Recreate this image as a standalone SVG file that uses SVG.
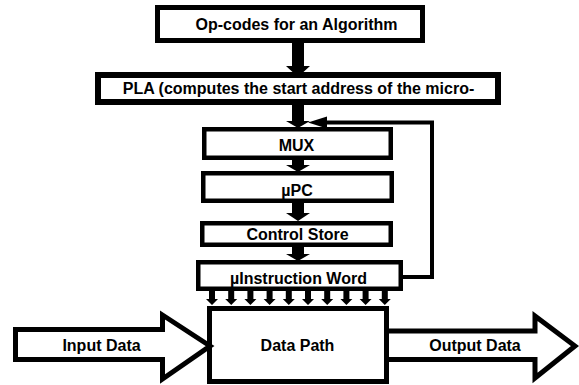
<svg xmlns="http://www.w3.org/2000/svg" width="579" height="385" viewBox="0 0 579 385">
<style>
.box{fill:#fff;stroke:#000;stroke-width:4.5}
.t{font-family:"Liberation Sans",Arial,sans-serif;font-weight:bold;font-size:16px;fill:#000;text-anchor:middle}
.ar{fill:#000}
.fb{fill:none;stroke:#000;stroke-width:4}
</style>
<defs>
<path id="sm" d="M-3,0 H3 V8 H6 L0,14 L-6,8 H-3 Z"/>
</defs>
<g id="connectors">
<path class="ar" d="M292,43 H304 V66 H310 L298,77 L286,66 H292 Z"/>
<path class="ar" d="M292,105 H304 V121 H310 L298,128 L286,121 H292 Z"/>
<path class="ar" d="M292,160 H304 V165 H310 L298,172 L286,165 H292 Z"/>
<path class="ar" d="M292,203 H304 V213 H310 L298,221 L286,213 H292 Z"/>
<path class="ar" d="M292,247 H304 V254 H310 L298,261 L286,254 H292 Z"/>
<path class="fb" d="M403,277 H432 V122.5 H325"/>
<path class="ar" d="M308,122.5 L327,116.5 L327,128.5 Z"/>
<g class="ar">
<use href="#sm" x="212" y="291"/>
<use href="#sm" x="231.2" y="291"/>
<use href="#sm" x="250.4" y="291"/>
<use href="#sm" x="269.6" y="291"/>
<use href="#sm" x="288.8" y="291"/>
<use href="#sm" x="308" y="291"/>
<use href="#sm" x="327.2" y="291"/>
<use href="#sm" x="346.4" y="291"/>
<use href="#sm" x="365.6" y="291"/>
<use href="#sm" x="384.8" y="291"/>
</g>
</g>
<g id="opcodes">
<rect class="box" x="157.5" y="7.5" width="265" height="33" style="stroke-width:5"/>
<text class="t" x="296.5" y="30">Op-codes for an Algorithm</text>
</g>
<g id="pla">
<rect class="box" x="98" y="75" width="400" height="27" style="stroke-width:6"/>
<text class="t" x="298.5" y="94">PLA (computes the start address of the micro-</text>
</g>
<g id="mux">
<rect class="box" x="204.25" y="129.25" width="186.5" height="28.5"/>
<text class="t" x="296.5" y="151">MUX</text>
</g>
<g id="upc">
<rect class="box" x="203.25" y="173.25" width="188.5" height="27.5"/>
<text class="t" x="297" y="195.5">µPC</text>
</g>
<g id="controlstore">
<rect class="box" x="202.25" y="223.25" width="188.5" height="21.5"/>
<text class="t" x="297.5" y="240">Control Store</text>
</g>
<g id="uinstruction">
<rect class="box" x="198.25" y="262.25" width="202.5" height="26.5"/>
<text class="t" x="298.5" y="284">µInstruction Word</text>
</g>
<g id="datapath">
<rect class="box" x="209.5" y="308.5" width="177" height="73" style="stroke-width:5"/>
<text class="t" x="297.5" y="351">Data Path</text>
</g>
<g id="inputdata">
<path class="box" d="M15.5,329.5 H162.5 V315 L210,346 L162.5,379 V359.5 H15.5 Z" style="stroke-width:5"/>
<text class="t" x="101.5" y="350.5">Input Data</text>
</g>
<g id="outputdata">
<path class="box" d="M389,331 H535 V316 L575,346 L535,378 V359.5 H389" style="stroke-width:5"/>
<text class="t" x="475" y="351">Output Data</text>
</g>
</svg>
